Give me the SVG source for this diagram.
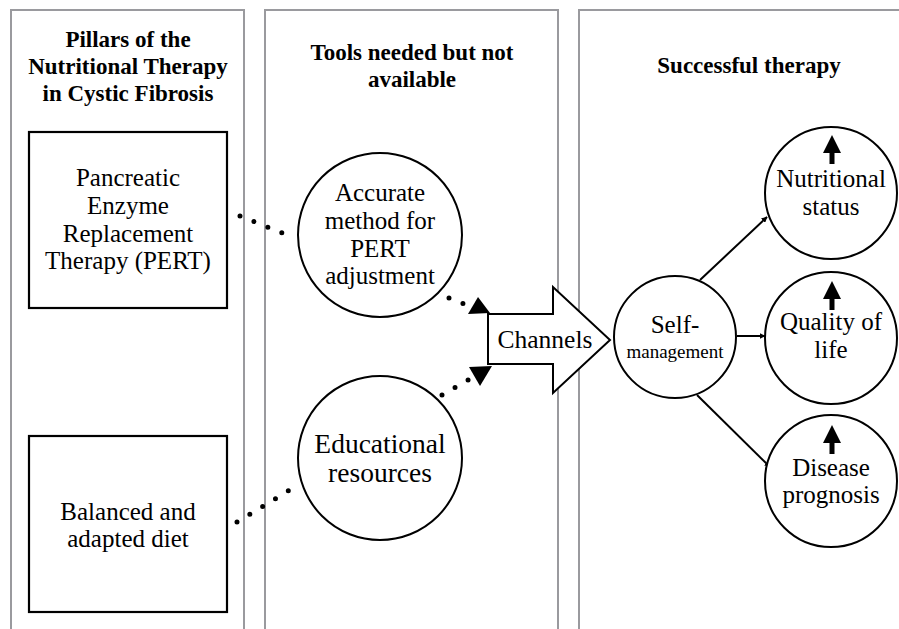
<svg xmlns="http://www.w3.org/2000/svg" width="899" height="629" viewBox="0 0 899 629">
<defs>
<style>
.panel{fill:none;stroke:#9a9a9e;stroke-width:2}
.box{fill:#fff;stroke:#000;stroke-width:2.2}
.circ{fill:#fff;stroke:#000;stroke-width:2}
.title{font-family:"Liberation Serif","Times New Roman",serif;font-weight:bold;font-size:23px;text-anchor:middle;fill:#000}
.t{font-family:"Liberation Serif","Times New Roman",serif;font-size:25px;text-anchor:middle;fill:#000}
.dots{fill:none;stroke:#000;stroke-width:5;stroke-linecap:round;stroke-dasharray:0 15}
.conn{fill:none;stroke:#000;stroke-width:2}
</style>
<marker id="ah" viewBox="0 0 10 10" refX="9" refY="5" markerWidth="6" markerHeight="6" orient="auto" markerUnits="userSpaceOnUse">
<path d="M0,0 L10,5 L0,10 z" fill="#000"/>
</marker>
<path id="up" d="M-9,18 L0,0 L9,18 L2.5,18 L2.5,29 L-2.5,29 L-2.5,18 z" fill="#000"/>
</defs>

<g id="panels">
<rect class="panel" x="11" y="10" width="233" height="640"/>
<rect class="panel" x="265" y="10" width="293" height="640"/>
<rect class="panel" x="579" y="10" width="340" height="640"/>
<text class="title" x="128" y="47">Pillars of the</text>
<text class="title" x="128" y="74">Nutritional Therapy</text>
<text class="title" x="128" y="101">in Cystic Fibrosis</text>
<text class="title" x="412" y="60">Tools needed but not</text>
<text class="title" x="412" y="87">available</text>
<text class="title" x="749" y="73">Successful therapy</text>
</g>

<g id="connectors">
<path class="dots" d="M240,216 L285,234"/>
<path class="dots" d="M237,522 L293,488"/>
<path class="dots" d="M449,298 L464,304"/>
<path class="dots" d="M442,395 L470,379"/>
<polygon points="468,314 490,313 478,297" fill="#000"/>
<polygon points="469,367 492,366 480,386" fill="#000"/>
<path class="conn" d="M700,280 L767,217" marker-end="url(#ah)"/>
<path class="conn" d="M737,336 L765,336" marker-end="url(#ah)"/>
<path class="conn" d="M697,395 L770,467" marker-end="url(#ah)"/>
</g>

<g id="pert">
<rect class="box" x="29" y="132" width="198" height="176"/>
<text class="t" x="128" y="186">Pancreatic</text>
<text class="t" x="128" y="214">Enzyme</text>
<text class="t" x="128" y="242">Replacement</text>
<text class="t" x="128" y="269">Therapy (PERT)</text>
</g>

<g id="diet">
<rect class="box" x="29" y="436" width="198" height="176"/>
<text class="t" x="128" y="520">Balanced and</text>
<text class="t" x="128" y="547">adapted diet</text>
</g>

<g id="accurate">
<circle class="circ" cx="380" cy="235" r="82"/>
<text class="t" x="380" y="201">Accurate</text>
<text class="t" x="380" y="229">method for</text>
<text class="t" x="380" y="257">PERT</text>
<text class="t" x="380" y="284">adjustment</text>
</g>

<g id="educational">
<circle class="circ" cx="380" cy="458" r="82"/>
<text class="t" x="380" y="453" style="font-size:27.5px">Educational</text>
<text class="t" x="380" y="482" style="font-size:27.5px">resources</text>
</g>

<g id="channels">
<path d="M488,314 L553,314 L553,287 L610,340 L553,393 L553,364 L488,364 z" fill="#fff" stroke="#000" stroke-width="2"/>
<text class="t" x="545" y="348" style="font-size:25.5px">Channels</text>
</g>

<g id="selfmanagement">
<circle class="circ" cx="675" cy="337" r="61"/>
<text class="t" x="675" y="333">Self-</text>
<text class="t" x="675" y="358" style="font-size:19px">management</text>
</g>

<g id="nutritional">
<circle class="circ" cx="831" cy="193" r="66"/>
<use href="#up" x="832" y="135"/>
<text class="t" x="831" y="187">Nutritional</text>
<text class="t" x="831" y="215">status</text>
</g>

<g id="quality">
<circle class="circ" cx="831" cy="338" r="66"/>
<use href="#up" x="832" y="281"/>
<text class="t" x="831" y="330">Quality of</text>
<text class="t" x="831" y="358">life</text>
</g>

<g id="disease">
<circle class="circ" cx="831" cy="481" r="66"/>
<use href="#up" x="832" y="425"/>
<text class="t" x="831" y="476">Disease</text>
<text class="t" x="831" y="503">prognosis</text>
</g>
</svg>
